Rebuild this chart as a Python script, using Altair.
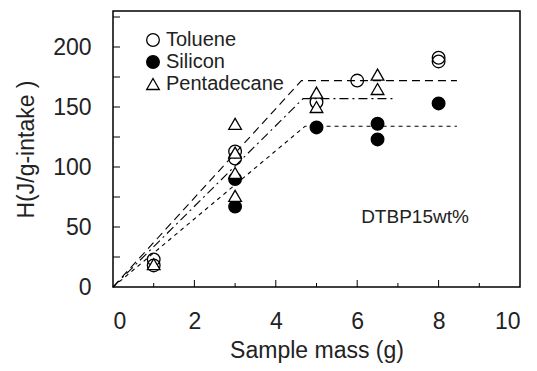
import altair as alt
import pandas as pd

# ---- data ----
toluene_x = [1, 1, 3, 3, 5, 6, 8, 8]
toluene_y = [23, 18, 113, 107, 154, 172, 191, 188]
silicon_x = [3, 3, 5, 6.5, 6.5, 8]
silicon_y = [90, 67, 133, 136, 123, 153]
penta_x = [1, 3, 3, 3, 3, 5, 5, 6.5, 6.5]
penta_y = [19, 136, 112, 95, 76, 162, 150, 177, 165]

series_names = ["Toluene", "Silicon", "Pentadecane"]

# fitted guide lines (origin -> knee -> plateau end)
line_dash_x = [0, 4.63, 8.45]
line_dash_y = [0, 172, 172]
line_dashdot_x = [0, 4.67, 6.9]
line_dashdot_y = [0, 157, 157]
line_dot_x = [0, 4.72, 8.45]
line_dot_y = [0, 134, 134]

x_minor_ticks = [1, 3, 5, 7, 9]
x_major_ticks = [2, 4, 6, 8]
y_ticks = [25, 50, 75, 100, 125, 150, 175, 200, 225]
x_labels = [0, 2, 4, 6, 8, 10]
y_labels = [0, 50, 100, 150, 200]

annotation = "DTBP15wt%"
annot_x, annot_y = 7.42, 58

FONT = "Liberation Sans"
W, H = 407, 276

pts = pd.DataFrame(
    {"x": toluene_x + silicon_x + penta_x,
     "y": toluene_y + silicon_y + penta_y,
     "s": ["Toluene"] * len(toluene_x) + ["Silicon"] * len(silicon_x) + ["Pentadecane"] * len(penta_x),
     "order": [0] * len(toluene_x) + [1] * len(silicon_x) + [2] * len(penta_x)}
)

xs = alt.Scale(domain=[0, 10], nice=False, zero=False)
ys = alt.Scale(domain=[0, 230], nice=False, zero=False)

x_enc = alt.X("x:Q", scale=xs, axis=alt.Axis(
    values=x_labels, ticks=False, domain=False, grid=False, title="Sample mass (g)",
    labelFont=FONT, labelFontSize=23, labelColor="#222", labelPadding=23,
    titleFont=FONT, titleFontSize=23, titleFontWeight="normal", titleColor="#222", titlePadding=6))
y_enc = alt.Y("y:Q", scale=ys, axis=alt.Axis(
    values=y_labels, ticks=False, domain=False, grid=False, title="H(J/g-intake )",
    labelFont=FONT, labelFontSize=23, labelColor="#222", labelPadding=22,
    titleFont=FONT, titleFontSize=23, titleFontWeight="normal", titleColor="#222", titlePadding=14))

shape_scale = alt.Scale(domain=series_names, range=["circle", "circle", "triangle-up"])
fill_scale = alt.Scale(domain=series_names, range=["transparent", "black", "white"])
stroke_scale = alt.Scale(domain=series_names, range=["black", "black", "black"])

leg = alt.Legend(
    title=None, orient="none", legendX=30, legendY=19, labelFont=FONT, labelFontSize=20,
    labelColor="#222", symbolSize=160, symbolStrokeWidth=1.3,
    rowPadding=2, labelOffset=3)

points = alt.Chart(pts).mark_point(size=160, strokeWidth=1.3, opacity=1, filled=False).encode(
    x=x_enc, y=y_enc,
    shape=alt.Shape("s:N", scale=shape_scale, legend=leg),
    fill=alt.Fill("s:N", scale=fill_scale, legend=leg),
    stroke=alt.Stroke("s:N", scale=stroke_scale, legend=leg),
    order="order:Q",
)

def guide(xv, yv, dash):
    df = pd.DataFrame({"x": xv, "y": yv})
    return alt.Chart(df).mark_line(color="black", strokeWidth=1.1, strokeDash=dash).encode(
        x=alt.X("x:Q", scale=xs), y=alt.Y("y:Q", scale=ys))

l1 = guide(line_dash_x, line_dash_y, [8, 5])
l2 = guide(line_dashdot_x, line_dashdot_y, [9, 4, 2, 4])
l3 = guide(line_dot_x, line_dot_y, [4, 4])

xmin = alt.Chart(pd.DataFrame({"x": x_minor_ticks})).mark_rule(color="black", strokeWidth=1).encode(
    x=alt.X("x:Q", scale=xs), y=alt.value(H), y2=alt.value(H - 4))
xmaj = alt.Chart(pd.DataFrame({"x": x_major_ticks})).mark_rule(color="black", strokeWidth=1).encode(
    x=alt.X("x:Q", scale=xs), y=alt.value(H), y2=alt.value(H - 7))
ytk = alt.Chart(pd.DataFrame({"y": y_ticks})).mark_rule(color="black", strokeWidth=1).encode(
    y=alt.Y("y:Q", scale=ys), x=alt.value(0), x2=alt.value(7))

annot = alt.Chart(pd.DataFrame({"x": [annot_x], "y": [annot_y], "t": [annotation]})).mark_text(
    font=FONT, fontSize=19, color="#222").encode(
    x=alt.X("x:Q", scale=xs), y=alt.Y("y:Q", scale=ys), text="t:N")

chart = alt.layer(xmin, xmaj, ytk, l1, l2, l3, points, annot).properties(
    width=W, height=H,
    padding={"left": 113, "top": 11, "right": 17, "bottom": 84},
    autosize=alt.AutoSizeParams(type="none"),
    background="white",
).configure_view(stroke="black", strokeWidth=1.5).configure_axis(labelFontWeight="normal")

chart.save("out.html", embed_options={"renderer": "svg", "actions": False})
